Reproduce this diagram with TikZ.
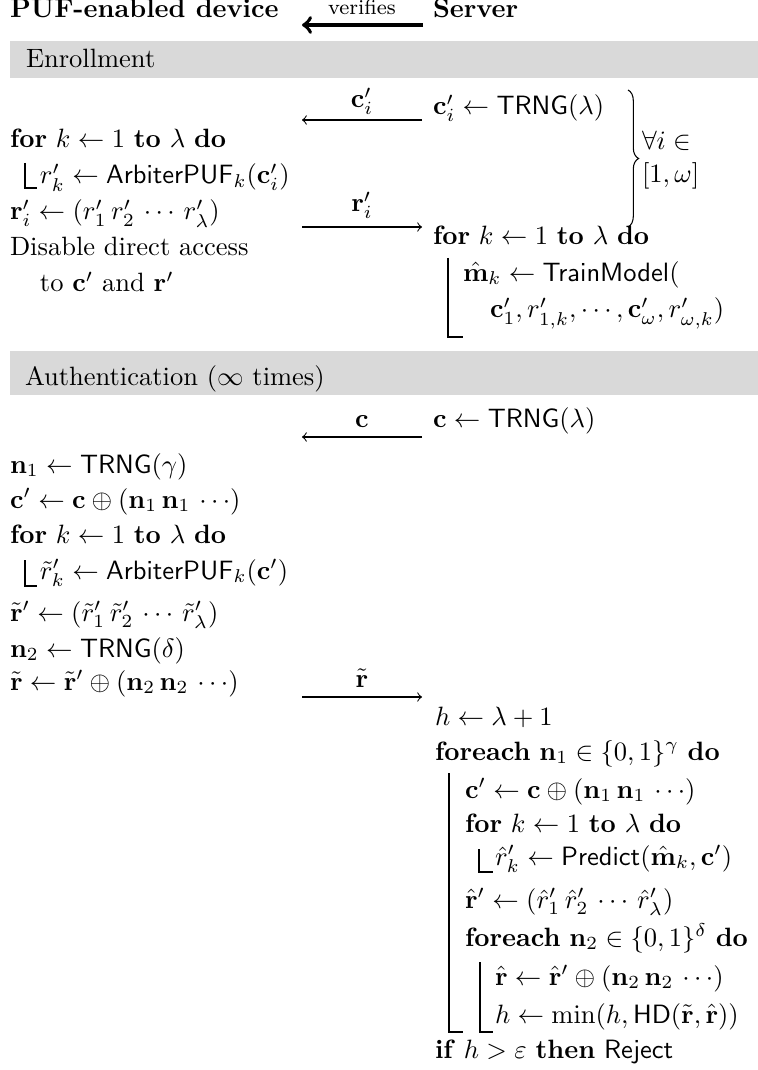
\documentclass[tikz,border=0pt]{standalone}
\usetikzlibrary{decorations.pathreplacing}
\newcommand\KW[1]{\textbf{#1}}
\newcommand\sfn[1]{\mathsf{#1}}
\begin{document}
\begin{tikzpicture}[x=0.37736pt, y=-0.37736pt,
  txt/.style={anchor=base west, inner sep=0pt, outer sep=0pt},
  lbl/.style={anchor=base, inner sep=0pt, outer sep=0pt},
  rulel/.style={line width=0.4pt},
  msg/.style={line width=0.4pt},
  verif/.style={line width=1.4pt, ->},
  bar/.style={fill=gray!30, draw=none},
  brc/.style={decorate, decoration={brace, amplitude=4pt}, line width=0.4pt}]
\useasboundingbox (0,0) rectangle (758,1070);

% header
\node[txt] (dev) at (10,18) {\textbf{PUF-enabled device}};
\node[txt] (srv) at (433,18) {\textbf{Server}};
\coordinate (vs) at (423,25);
\coordinate (ve) at (302,25);
\draw[verif] (vs) -- (ve);
\node[lbl, font=\footnotesize] (vlab) at (362,15) {verifies};

% enrollment bar
\fill[bar] (10,41) rectangle (758,78);
\node[txt] (enr) at (26,68) {Enrollment};

% enrollment server
\node[txt] (s1) at (433,115) {$\mathbf{c}'_i \leftarrow \sfn{TRNG}(\lambda)$};
\coordinate (a1r) at (422,120);
\coordinate (a1l) at (302,120);
\draw[msg,->] (a1r) -- (a1l);
\node[lbl] (a1lab) at (362,108) {$\mathbf{c}'_i$};

% enrollment device
\node[txt] (d1) at (10,148) {\KW{for} $k \leftarrow 1$ \KW{to} $\lambda$ \KW{do}};
\node[txt] (d2) at (40,184) {$r'_k \leftarrow \sfn{ArbiterPUF}_k(\mathbf{c}'_i)$};
\draw[rulel] (25,163) -- (25,188) -- (37,188);
\node[txt] (d3) at (10,220) {$\mathbf{r}'_i \leftarrow (r'_1\,r'_2\,\cdots\,r'_\lambda)$};
\node[txt] (d4) at (10,256) {Disable direct access};
\node[txt] (d5) at (40,292) {to $\mathbf{c}'$ and $\mathbf{r}'$};

\coordinate (a2l) at (302,227);
\coordinate (a2r) at (422,227);
\draw[msg,->] (a2l) -- (a2r);
\node[lbl] (a2lab) at (362,212) {$\mathbf{r}'_i$};

% brace
\coordinate (bt) at (628,90);
\coordinate (bb) at (628,227);
\draw[brc] (bt) -- (bb);
\node[txt] (q1) at (642,150) {$\forall i \in$};
\node[txt] (q2) at (642,183) {$[1,\omega]$};

% server training
\node[txt] (s2) at (433,245) {\KW{for} $k \leftarrow 1$ \KW{to} $\lambda$ \KW{do}};
\node[txt] (s3) at (463,281) {$\hat{\mathbf{m}}_k \leftarrow \sfn{TrainModel}($};
\node[txt] (s4) at (490,318) {$\mathbf{c}'_1, r'_{1,k}, \cdots, \mathbf{c}'_\omega, r'_{\omega,k})$};
\draw[rulel] (448,258) -- (448,337) -- (463,337);

% authentication bar
\fill[bar] (10,351) rectangle (758,395);
\node[txt] (aut) at (25,385) {Authentication ($\infty$ times)};

% challenge
\node[txt] (s5) at (433,427) {$\mathbf{c} \leftarrow \sfn{TRNG}(\lambda)$};
\coordinate (a3r) at (422,437);
\coordinate (a3l) at (302,437);
\draw[msg,->] (a3r) -- (a3l);
\node[lbl] (a3lab) at (362,427) {$\mathbf{c}$};

% device auth
\node[txt] (e1) at (10,473) {$\mathbf{n}_1 \leftarrow \sfn{TRNG}(\gamma)$};
\node[txt] (e2) at (10,508) {$\mathbf{c}' \leftarrow \mathbf{c} \oplus (\mathbf{n}_1\,\mathbf{n}_1\,\cdots)$};
\node[txt] (e3) at (10,543) {\KW{for} $k \leftarrow 1$ \KW{to} $\lambda$ \KW{do}};
\node[txt] (e4) at (40,579) {$\tilde{r}'_k \leftarrow \sfn{ArbiterPUF}_k(\mathbf{c}')$};
\draw[rulel] (25,560) -- (25,586) -- (37,586);
\node[txt] (e5) at (10,621) {$\tilde{\mathbf{r}}' \leftarrow (\tilde{r}'_1\,\tilde{r}'_2\,\cdots\,\tilde{r}'_\lambda)$};
\node[txt] (e6) at (10,657) {$\mathbf{n}_2 \leftarrow \sfn{TRNG}(\delta)$};
\node[txt] (e7) at (10,690) {$\tilde{\mathbf{r}} \leftarrow \tilde{\mathbf{r}}' \oplus (\mathbf{n}_2\,\mathbf{n}_2\,\cdots)$};

\coordinate (a4l) at (302,697);
\coordinate (a4r) at (422,697);
\draw[msg,->] (a4l) -- (a4r);
\node[lbl] (a4lab) at (362,687) {$\tilde{\mathbf{r}}$};

% server verification
\node[txt] (v1) at (435,725) {$h \leftarrow \lambda + 1$};
\node[txt] (v2) at (435,760) {\KW{foreach} $\mathbf{n}_1 \in \{0,1\}^\gamma$ \KW{do}};
\node[txt] (v3) at (465,798) {$\mathbf{c}' \leftarrow \mathbf{c} \oplus (\mathbf{n}_1\,\mathbf{n}_1\,\cdots)$};
\node[txt] (v4) at (465,832) {\KW{for} $k \leftarrow 1$ \KW{to} $\lambda$ \KW{do}};
\node[txt] (v5) at (495,865) {$\hat{r}'_k \leftarrow \sfn{Predict}(\hat{\mathbf{m}}_k, \mathbf{c}')$};
\draw[rulel] (479,849) -- (479,872) -- (493,872);
\node[txt] (v6) at (465,908) {$\hat{\mathbf{r}}' \leftarrow (\hat{r}'_1\,\hat{r}'_2\,\cdots\,\hat{r}'_\lambda)$};
\node[txt] (v7) at (465,946) {\KW{foreach} $\mathbf{n}_2 \in \{0,1\}^\delta$ \KW{do}};
\node[txt] (v8) at (495,985) {$\hat{\mathbf{r}} \leftarrow \hat{\mathbf{r}}' \oplus (\mathbf{n}_2\,\mathbf{n}_2\,\cdots)$};
\node[txt] (v9) at (495,1023) {$h \leftarrow \min(h, \sfn{HD}(\tilde{\mathbf{r}}, \hat{\mathbf{r}}))$};
\draw[rulel] (480,962) -- (480,1032) -- (493,1032);
\draw[rulel] (449,773) -- (449,1032) -- (463,1032);
\node[txt] (v10) at (435,1058) {\KW{if} $h > \varepsilon$ \KW{then} $\sfn{Reject}$};
\end{tikzpicture}
\end{document}
